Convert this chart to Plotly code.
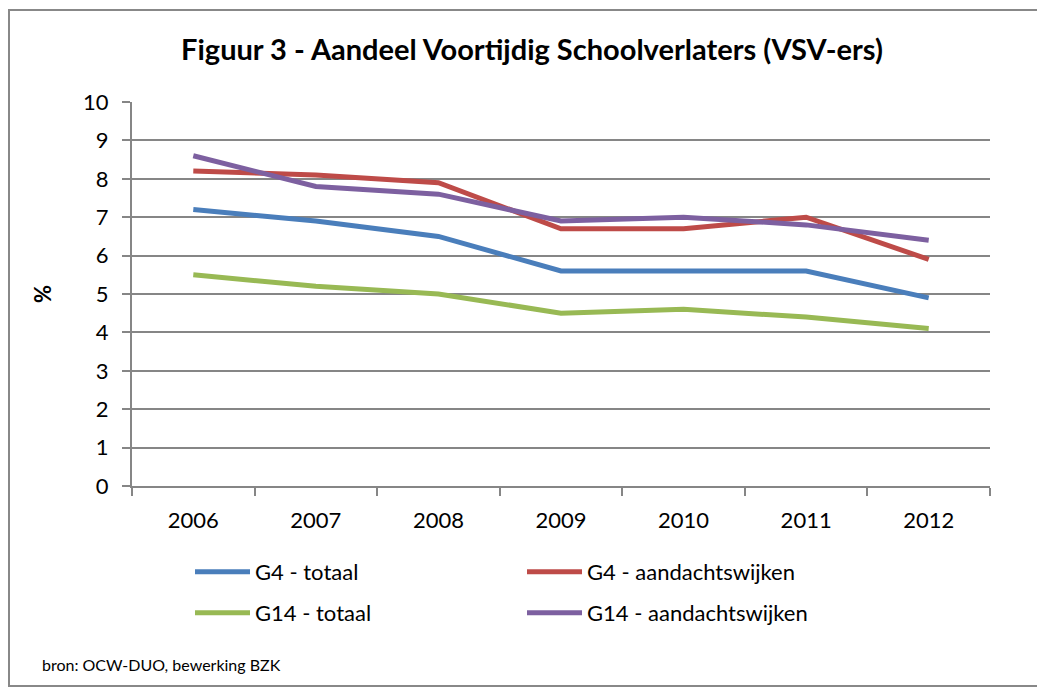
import plotly.graph_objects as go

years = ["2006", "2007", "2008", "2009", "2010", "2011", "2012"]
g4_totaal = [7.2, 6.9, 6.5, 5.6, 5.6, 5.6, 4.9]
g4_aandacht = [8.2, 8.1, 7.9, 6.7, 6.7, 7.0, 5.9]
g14_totaal = [5.5, 5.2, 5.0, 4.5, 4.6, 4.4, 4.1]
g14_aandacht = [8.6, 7.8, 7.6, 6.9, 7.0, 6.8, 6.4]

names = ["G4 - totaal", "G4 - aandachtswijken", "G14 - totaal", "G14 - aandachtswijken"]
colors = ["#4A7EBB", "#BE4B48", "#98B954", "#7D60A0"]
series = [g4_totaal, g4_aandacht, g14_totaal, g14_aandacht]
legends = ["legend", "legend", "legend2", "legend2"]

FONT = "Lato, Carlito, Calibri, sans-serif"
# page body has an 8px margin; work in screen coords and convert
OFF = 8
W, H = 1037, 681
L, R, T, B = 124, 55, 94, 203
pw = W - L - R
ph = H - T - B


def px_x(sx):
    return (sx - OFF - L) / pw


def px_y(sy):
    return (H - B - (sy - OFF)) / ph


fig = go.Figure()
for nm, col, ys, lg in zip(names, colors, series, legends):
    fig.add_trace(go.Scatter(x=years, y=ys, mode="lines", name=nm,
                             line=dict(color=col, width=5), legend=lg))

legend_common = dict(orientation="h", xanchor="left", yanchor="middle",
                     font=dict(family=FONT, size=22, color="#000"),
                     entrywidth=262, entrywidthmode="pixels",
                     bgcolor="rgba(0,0,0,0)", itemwidth=55, traceorder="normal")

fig.update_layout(
    width=W, height=H,
    margin=dict(l=L, r=R, t=T, b=B),
    paper_bgcolor="white", plot_bgcolor="white",
    font=dict(family=FONT, size=22, color="#000"),
    title=dict(text="<b>Figuur 3 - Aandeel Voortijdig Schoolverlaters (VSV-ers)</b>",
               x=(532 - OFF) / W, xref="container", xanchor="center",
               y=1 - (50 - OFF) / H, yref="container", yanchor="middle",
               font=dict(family=FONT, size=29, color="#000")),
    legend=dict(x=px_x(190), y=px_y(572), **legend_common),
    legend2=dict(x=px_x(190), y=px_y(613), **legend_common),
    xaxis=dict(type="category", range=[-0.5, 6.5], showgrid=False,
               showline=True, linecolor="#868686", linewidth=2,
               ticks="outside", tickson="boundaries", ticklen=8, tickcolor="#868686",
               tickwidth=2, tickfont=dict(family=FONT, size=22, color="#000"),
               ticklabelstandoff=14, fixedrange=True),
    yaxis=dict(range=[0, 10], dtick=1, tick0=0, showgrid=True, gridcolor="#868686",
               gridwidth=2, showline=True, linecolor="#868686", linewidth=2,
               ticks="outside", ticklen=8, tickcolor="#868686", tickwidth=2,
               tickfont=dict(family=FONT, size=22, color="#000"), zeroline=False,
               ticklabelstandoff=9,
               title=dict(text="<b>%</b>", font=dict(family=FONT, size=22, color="#000"),
                          standoff=25),
               fixedrange=True),
    showlegend=True,
)

fig.add_annotation(text="bron: OCW-DUO, bewerking BZK", xref="paper", yref="paper",
                   x=px_x(40), y=px_y(664), xanchor="left", yanchor="middle",
                   showarrow=False, font=dict(family=FONT, size=16, color="#000"))

fig.add_shape(type="rect", xref="paper", yref="paper",
              x0=px_x(9), x1=px_x(1041), y0=px_y(686), y1=px_y(10),
              line=dict(color="#888888", width=2), fillcolor="rgba(0,0,0,0)", layer="below")

fig.write_html("out.html")
